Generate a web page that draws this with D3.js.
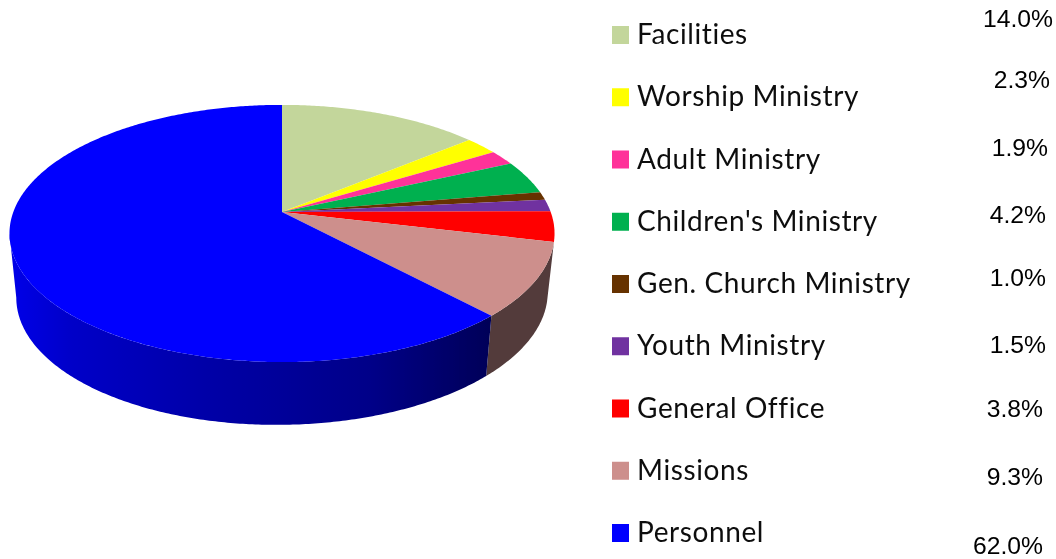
<!DOCTYPE html>
<html>
<head>
    <title>Budget Pie Chart</title>
    <script src="https://d3js.org/d3.v7.min.js"></script>
    <style>
        html, body { margin: 0; padding: 0; background: #fff; }
        svg { display: block; }
    </style>
</head>
<body>
    <script>
        // Data
        const categories = ["Facilities", "Worship Ministry", "Adult Ministry", "Children's Ministry",
            "Gen. Church Ministry", "Youth Ministry", "General Office", "Missions", "Personnel"];
        const shares = [14.0, 2.3, 1.9, 4.2, 1.0, 1.5, 3.8, 9.3, 62.0];
        const colors = ["#c3d69b", "#ffff00", "#ff3399", "#00b050", "#663300", "#7030a0", "#ff0000", "#cd8f8c", "#0000ff"];

        // The percent labels sit loosely next to the legend, not on a grid
        const pctRight = [1053, 1050, 1048, 1046, 1046, 1046, 1043, 1043, 1043];
        const pctBaseline = [27, 88, 156, 223, 286, 353, 417, 485, 554];

        const width = 1056, height = 559;

        const svg = d3.select("body")
          .append("svg")
            .attr("width", width)
            .attr("height", height);

        // Soft edges, the original is a scaled-up screenshot
        const defs = svg.append("defs");
        defs.append("filter").attr("id", "soft")
            .attr("x", "-5%").attr("y", "-5%").attr("width", "110%").attr("height", "110%")
          .append("feGaussianBlur").attr("stdDeviation", 0.45);

        // Shading of the blue wall, dark towards the right
        const wall = defs.append("linearGradient").attr("id", "blueWall")
            .attr("gradientUnits", "userSpaceOnUse")
            .attr("x1", 15).attr("x2", 490).attr("y1", 0).attr("y2", 0);
        [[0, "#0000e6"], [0.12, "#0000c8"], [0.4, "#0000a8"], [0.75, "#000088"], [1, "#000058"]]
            .forEach(s => wall.append("stop").attr("offset", s[0]).attr("stop-color", s[1]));

        const wallFill = ["none", "none", "none", "none", "none", "none", "none", "#523b3b", "url(#blueWall)"];

        // Tilted disc: a projective view of a circle, so the apex is above the ellipse centre
        const cx = 282, cy = 212, radiusX = 268.7, radiusY = 125, tilt = 0.167;
        function project(a) {
            const u = Math.sin(a), v = -Math.cos(a), w = 1 - tilt * v;
            return [cx + radiusX * u / w, cy + radiusY * v / w];
        }
        // Lower rim of the disc
        const lowerRx = 0.975, lowerDy = 61.5;
        function projectLower(a) {
            const p = project(a);
            return [cx + (p[0] - cx) * lowerRx, p[1] + lowerDy + (p[1] - 233.5) * 0.01 - (p[0] - cx) * 0.01];
        }

        const pie = d3.pie().sort(null).value(d => d);
        const arcs = pie(shares);
        const line = d3.line();

        function arcAngles(start, end) {
            const n = Math.max(2, Math.ceil((end - start) / 0.01));
            return d3.range(n + 1).map(i => start + (end - start) * i / n);
        }

        // The wall stops where the top rim reaches its leftmost point
        const leftmost = 2 * Math.PI - Math.acos(-0.167);

        const chart = svg.append("g").attr("filter", "url(#soft)");

        // Walls first
        chart.selectAll("path.wall")
          .data(arcs)
          .enter()
          .filter((d, i) => wallFill[i] !== "none")
          .append("path")
            .attr("class", "wall")
            .attr("fill", d => wallFill[d.index])
            .attr("d", d => {
                const as = arcAngles(d.startAngle, Math.min(d.endAngle, leftmost));
                return line(as.map(project).concat(as.slice().reverse().map(projectLower))) + "Z";
            });

        // Top face
        chart.selectAll("path.top")
          .data(arcs)
          .enter()
          .append("path")
            .attr("class", "top")
            .attr("fill", d => colors[d.index])
            .attr("d", d => line([[cx, cy]].concat(arcAngles(d.startAngle, d.endAngle).map(project))) + "Z");

        // Legend
        const row = d3.scaleLinear().domain([0, categories.length - 1]).range([35, 533]);
        const legend = svg.append("g").attr("filter", "url(#soft)");

        legend.selectAll("rect")
          .data(categories)
          .enter()
          .append("rect")
            .attr("x", 612)
            .attr("y", (d, i) => row(i) - 9)
            .attr("width", 17)
            .attr("height", 18)
            .attr("fill", (d, i) => colors[i]);

        legend.selectAll("text")
          .data(categories)
          .enter()
          .append("text")
            .attr("x", 637)
            .attr("y", (d, i) => row(i) + 9)
            .style("font-family", "Lato, sans-serif")
            .style("font-size", "28px")
            .style("letter-spacing", "0.6px")
            .attr("fill", "#111")
            .text(d => d);

        // Percent labels
        svg.append("g").attr("filter", "url(#soft)").selectAll("text")
          .data(shares)
          .enter()
          .append("text")
            .attr("x", (d, i) => pctRight[i])
            .attr("y", (d, i) => pctBaseline[i])
            .attr("text-anchor", "end")
            .style("font-family", "'Liberation Sans', Arial, sans-serif")
            .style("font-size", "24.7px")
            .attr("fill", "#000")
            .text(d => d.toFixed(1) + "%");
    </script>
</body>
</html>
